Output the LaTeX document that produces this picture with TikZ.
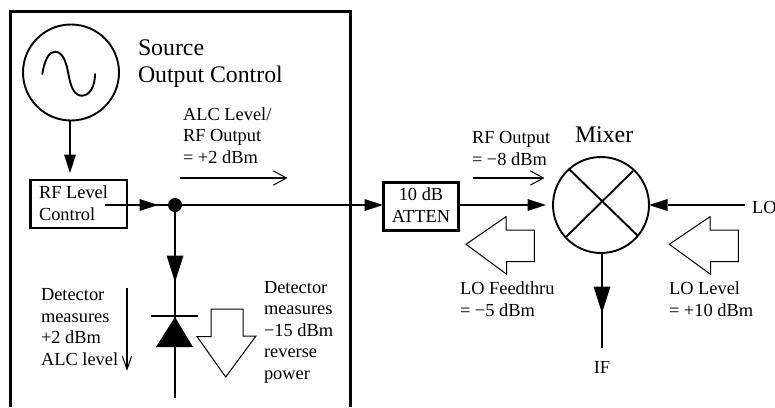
\documentclass[tikz,border=0pt]{standalone}
\usepackage{fontspec}
\setmainfont{Liberation Serif}
\usetikzlibrary{arrows.meta,decorations.markings}
\tikzset{
  x=1pt,y=-1pt,
  lbl/.style={anchor=base west,inner sep=0pt,outer sep=0pt,align=left,font=\fontsize{18.4}{21.4}\selectfont},
  biglbl/.style={lbl,font=\fontsize{23.8}{27}\selectfont},
  ctr/.style={lbl,anchor=base,align=center},
  wire/.style={line width=1.9pt},
  smalltip/.style={-{Triangle[length=18.5pt,width=12pt,line width=0pt]}},
  thinarrow/.style={line width=1.1pt,-{Straight Barb[length=13pt,width=14pt,line width=1pt,round]}},
  midsmall/.style={postaction={decorate,decoration={markings,mark=at position #1 with {\arrow{Triangle[length=18.5pt,width=12pt,line width=0pt]}}}}},
  midbig/.style={postaction={decorate,decoration={markings,mark=at position #1 with {\arrow{Triangle[length=26.5pt,width=17pt,line width=0pt]}}}}},
  round shape/.style={draw,circle,line width=1.9pt,inner sep=0pt,outer sep=0pt,minimum size=96pt},
  blockbox/.style={draw,line width=2.6pt,inner sep=0pt,outer sep=0pt},
  hollow/.style={draw,line width=1pt,line join=miter,fill=white},
}
\begin{document}
\begin{tikzpicture}
\useasboundingbox (0,0) rectangle (775,407);

% source enclosure (open at the bottom)
\draw[line width=3pt,line join=miter] (10,407) -- (10,11.5) -- (350,11.5) -- (350,407);

% nodes
\node[round shape] (src) at (71,72.5) {};
\node[round shape] (mixer) at (601,205) {};
\node[blockbox,minimum width=96.5pt,minimum height=48pt] (rf) at (78.75,204) {};
\node[blockbox,line width=3pt,minimum width=75pt,minimum height=48pt] (atten) at (420.5,206) {};
\node[circle,fill=black,inner sep=0pt,outer sep=0pt,minimum size=14pt] (dot) at (175,205) {};

\coordinate (srcend) at (70,173);
\coordinate (rfstart) at (105,205);
\coordinate (mixin) at (546,205);
\coordinate (lostart) at (745,205);
\coordinate (ifend) at (602,348);
\coordinate (detend) at (175,398);

% oscillator sine
\draw[wire,line cap=round] (42.3,74) .. controls (44.5,60) and (49,51.7) .. (55,51.7)
  .. controls (63,51.7) and (66.5,63) .. (68.3,73.5)
  .. controls (70.5,86) and (74,95.7) .. (81.7,95.7)
  .. controls (90,95.7) and (95,86) .. (95,74);

% mixer cross
\draw[wire] (569,169) -- (638,236);
\draw[wire] (633,171) -- (566,237);

% connectors
\draw[wire,smalltip] (src.south -| srcend) -- (srcend);
\draw[wire,midsmall=53pt] (rfstart) -- (dot);
\draw[wire,smalltip] (dot) -- (atten.west |- dot);
\draw[wire,smalltip] (atten.east |- mixin) -- (mixin);
\draw[wire,smalltip] (lostart) -- (mixer.east);
\draw[wire,midbig=70pt] (dot) -- (detend);
\draw[wire,midbig=60pt] (mixer.south -| ifend) -- (ifend);

% diode
\fill (175,317) -- (193,347) -- (156,347) -- cycle;
\draw[wire] (151,316) -- (198,316);

% thin level arrows
\coordinate (a1) at (180,178); \coordinate (a2) at (287,178);
\coordinate (b1) at (473,178); \coordinate (b2) at (544,178);
\coordinate (c1) at (127,288); \coordinate (c2) at (127,370);
\draw[thinarrow] (a1) -- (a2);
\draw[thinarrow] (b1) -- (b2);
\draw[thinarrow,-{Straight Barb[length=13pt,width=9pt,line width=1pt,round]}] (c1) -- (c2);

% hollow arrows
\path[hollow] (211,309) -- (243,309) -- (243,336) -- (256,336) -- (225.7,377) -- (197,336.5) -- (211,336.5) -- cycle;
\path[hollow] (466,244.3) -- (506,216.7) -- (506,230) -- (534.3,230) -- (534.3,261.7) -- (506.7,261.7) -- (506.7,274.3) -- cycle;
\path[hollow] (669.3,244.3) -- (710,216.7) -- (710,230) -- (738.3,230) -- (738.3,261.7) -- (710.5,261.7) -- (710.5,274.3) -- cycle;

% labels
\node[biglbl] (t1) at (138,82) {Source\\Output Control};
\node[lbl] (t2) at (183,163) {ALC Level/\\RF Output\\= +2 dBm};
\node[lbl] (t3) at (39,220) {RF Level\\Control};
\node[lbl] (t4) at (41,365) {Detector\\measures\\+2 dBm\\ALC level};
\node[lbl] (t5) at (264,379) {Detector\\measures\\−15 dBm\\reverse\\power};
\node[ctr] (t6) at (421,222) {10 dB\\ATTEN};
\node[lbl] (t7) at (472,165) {RF Output\\= −8 dBm};
\node[biglbl] (t8) at (575,142) {Mixer};
\node[lbl] (t9) at (460,316) {LO Feedthru\\= −5 dBm};
\node[lbl] (t10) at (669,316) {LO Level\\= +10 dBm};
\node[lbl] (t11) at (752,213) {LO};
\node[ctr] (t12) at (602,373) {IF};
\end{tikzpicture}
\end{document}
